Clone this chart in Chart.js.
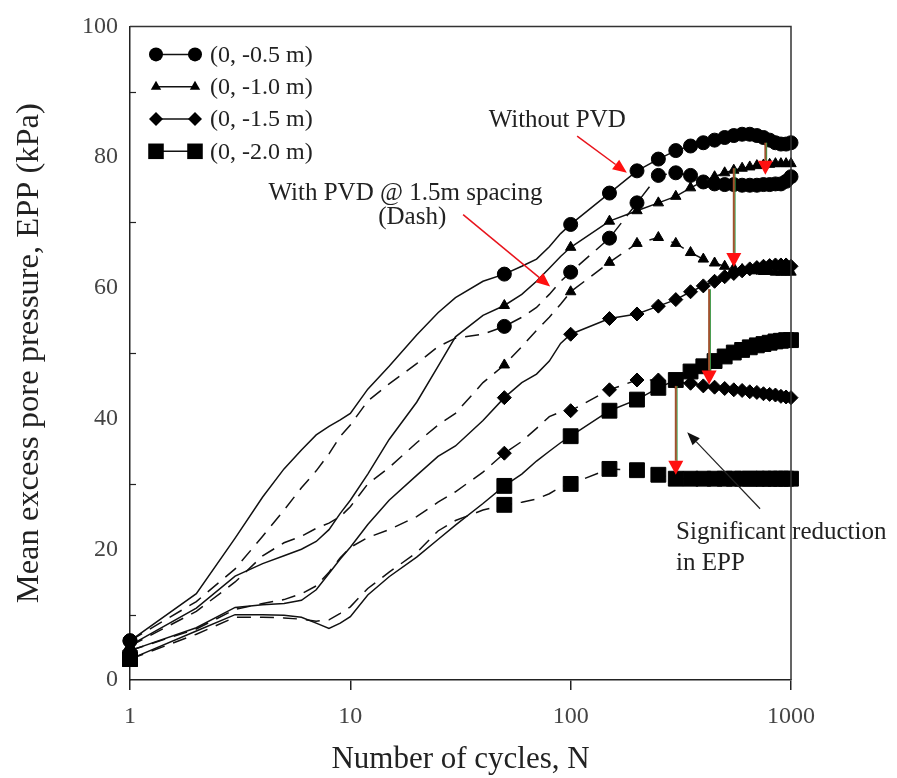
<!DOCTYPE html>
<html>
<head>
<meta charset="utf-8">
<script src="https://cdn.jsdelivr.net/npm/chart.js@4.4.1/dist/chart.umd.min.js"></script>
<style>
    html, body { margin: 0; padding: 0; background: #fff; }
</style>
</head>
<body>
<canvas id="graficaEpp" width="897" height="778"></canvas>
<script>
// ==============================
// DATA
// ==============================
const cycles = [1, 2, 3, 4, 5, 6, 7, 8, 9, 10, 12, 15, 20, 25, 30, 40, 50, 60, 70, 80, 90,
    100, 150, 200, 250, 300, 350, 400, 450, 500, 550, 600, 650, 700, 750, 800, 850, 900, 950, 1000];
const xTicks = [1, 10, 100, 1000];

// without PVD (solid)
const noPvd05 = [6, 13.2, 21.7, 28, 32.3, 35.2, 37.5, 38.8, 39.8, 40.8, 44.5, 48, 52.8, 56.2, 58.5, 61, 62.1, 63.3, 64.4, 66.3, 68.3,
    69.7, 74.5, 77.9, 79.7, 81, 81.7, 82.2, 82.6, 83, 83.3, 83.5, 83.5, 83.3, 83, 82.6, 82.2, 82, 82, 82.2];
const noPvd10 = [5.3, 11, 15.9, 17.8, 19, 20, 21.2, 23, 25.5, 27.5, 31.5, 36.8, 42.5, 48, 52.5, 55.8, 57.3, 59, 61, 63, 64.8,
    66.2, 70.2, 71.8, 73, 74, 75.3, 76.3, 77, 77.6, 78, 78.3, 78.5, 78.7, 78.8, 78.9, 79, 79, 79, 79];
const noPvd15 = [4.5, 8, 11.1, 11.5, 11.7, 12.2, 13.8, 16.3, 18.5, 20.3, 23.8, 27.5, 31.3, 34.2, 35.8, 39.7, 43.2, 45.5, 46.8, 48.8, 51.5,
    52.9, 55.3, 56, 57.2, 58.2, 59.4, 60.3, 61, 61.7, 62.2, 62.6, 62.9, 63.1, 63.3, 63.4, 63.5, 63.5, 63.5, 63.3];
const noPvd20 = [3.2, 7.5, 10, 10, 9.9, 9.6, 8.7, 7.9, 8.7, 9.7, 13, 15.8, 18.8, 21.5, 23.7, 27, 29.7, 31.5, 33.5, 35, 36.3,
    37.3, 41.2, 42.9, 44.7, 45.9, 47.2, 48, 48.8, 49.5, 50.1, 50.5, 50.9, 51.2, 51.4, 51.6, 51.8, 51.9, 52, 52];

// with PVD @ 1.5 m spacing (dashed)
const pvd05 = [6, 12, 17, 22, 26, 29.4, 32, 34.6, 37.3, 39, 42.7, 45.3, 48.4, 51, 52.3, 52.9, 54.1, 55.5, 57, 59, 61,
    62.4, 67.6, 73, 77.2, 77.6, 77.2, 76.2, 75.9, 75.8, 75.8, 75.7, 75.7, 75.7, 75.8, 75.8, 75.9, 75.9, 76.3, 77];
const pvd10 = [5.2, 10.5, 15, 19, 21, 22, 23.2, 24, 25, 26.5, 30, 32.5, 36.3, 39, 40.8, 45.5, 48.2, 51, 53.5, 55.5, 57.5,
    59.4, 63.9, 66.8, 67.7, 66.8, 65.4, 64.4, 63.8, 63.3, 63, 62.8, 62.7, 62.6, 62.5, 62.5, 62.4, 62.4, 62.4, 62.4];
const pvd15 = [4.5, 7.8, 10.8, 11.7, 12.3, 13.2, 14.4, 16.5, 18.7, 20.3, 21.8, 23, 25, 27.2, 28.8, 31.8, 34.7, 36.5, 38.5, 40.3, 41,
    41.2, 44.4, 45.9, 45.9, 45.6, 45.4, 45, 44.8, 44.6, 44.4, 44.3, 44.1, 44, 43.8, 43.7, 43.6, 43.4, 43.3, 43.2];
const pvd20 = [3.2, 7, 9.6, 9.6, 9.5, 9.3, 9, 9.2, 10.2, 11.2, 14, 16.5, 19.5, 22.8, 24.4, 26, 26.8, 27.2, 27.7, 28.5, 29.5,
    30, 32.3, 32.1, 31.4, 30.8, 30.8, 30.8, 30.8, 30.8, 30.8, 30.8, 30.8, 30.8, 30.8, 30.8, 30.8, 30.8, 30.8, 30.8];

const FONT = "'Liberation Serif', 'Times New Roman', serif";

// markers only at N = 1 and every 50 cycles
function hasMarker(n) {
    return n === 1 || (n >= 50 && n % 50 === 0);
}

function series(label, values, style, radius, dashed) {
    return {
        label: label,
        data: cycles.map((n, i) => ({ x: n, y: values[i] })),
        borderColor: "#111",
        backgroundColor: "#000",
        borderWidth: 1.5,
        borderDash: dashed ? [14, 9] : [],
        pointStyle: style,
        pointRadius: ctx => hasMarker(cycles[ctx.dataIndex]) ? radius : 0,
        pointBackgroundColor: "#000",
        pointBorderColor: "#000",
        pointBorderWidth: 1,
        tension: 0,
        clip: false
    };
}

// ==============================
// ANNOTATIONS (data coordinates)
// ==============================
const legendRows = [
    { text: "(0, -0.5 m)", style: "circle", r: 7 },
    { text: "(0, -1.0 m)", style: "triangle", r: 6 },
    { text: "(0, -1.5 m)", style: "rectRot", r: 7 },
    { text: "(0, -2.0 m)", style: "rect", r: 11 }
];

const notes = [
    { text: "Without PVD", n: 86.9, v: 85.6, align: "center" },
    { text: "With PVD @ 1.5m spacing", n: 17.8, v: 74.5, align: "center" },
    { text: "(Dash)", n: 19.1, v: 70.8, align: "center" },
    { text: "Significant reduction", n: 301, v: 22.6, align: "left" },
    { text: "in EPP", n: 301, v: 17.9, align: "left" }
];

const redArrows = [
    { from: [107, 83.2], to: [180, 77.6] },
    { from: [32.5, 71.2], to: [80.7, 60.2] }
];

const dropArrows = [
    { n: 765, top: 82.2, bottom: 77.3 },
    { n: 550, top: 78.3, bottom: 63.2 },
    { n: 425, top: 59.8, bottom: 45.2 },
    { n: 300, top: 45, bottom: 31.4 }
];

function drawMarker(ctx, style, px, py, r) {
    ctx.beginPath();
    if (style === "circle") {
        ctx.arc(px, py, r, 0, Math.PI * 2);
    } else if (style === "triangle") {
        ctx.moveTo(px, py - r);
        ctx.lineTo(px + 0.866 * r, py + r / 2);
        ctx.lineTo(px - 0.866 * r, py + r / 2);
        ctx.closePath();
    } else if (style === "rectRot") {
        ctx.moveTo(px - r, py);
        ctx.lineTo(px, py - r);
        ctx.lineTo(px + r, py);
        ctx.lineTo(px, py + r);
        ctx.closePath();
    } else {
        const s = r * Math.SQRT1_2;
        ctx.rect(px - s, py - s, 2 * s, 2 * s);
    }
    ctx.fill();
}

function arrow(ctx, x1, y1, x2, y2, color, headColor, headLen, headW) {
    const ang = Math.atan2(y2 - y1, x2 - x1);
    const bx = x2 - Math.cos(ang) * headLen;
    const by = y2 - Math.sin(ang) * headLen;
    ctx.strokeStyle = color;
    ctx.beginPath();
    ctx.moveTo(x1, y1);
    ctx.lineTo(bx, by);
    ctx.stroke();
    ctx.fillStyle = headColor;
    ctx.beginPath();
    ctx.moveTo(x2, y2);
    ctx.lineTo(bx + Math.sin(ang) * headW / 2, by - Math.cos(ang) * headW / 2);
    ctx.lineTo(bx - Math.sin(ang) * headW / 2, by + Math.cos(ang) * headW / 2);
    ctx.closePath();
    ctx.fill();
}

const decorations = {
    id: "decorations",
    afterDraw(chart) {
        const { ctx, chartArea: a, scales: { x, y } } = chart;
        ctx.save();

        // top and right frame
        ctx.strokeStyle = "#333";
        ctx.lineWidth = 1.5;
        ctx.beginPath();
        ctx.moveTo(a.left, a.top);
        ctx.lineTo(a.right, a.top);
        ctx.lineTo(a.right, a.bottom);
        ctx.stroke();

        // inner minor ticks on the y axis
        ctx.strokeStyle = "#222";
        ctx.lineWidth = 1.2;
        [10, 30, 50, 70, 90].forEach(v => {
            const py = Math.round(y.getPixelForValue(v)) + 0.5;
            ctx.beginPath();
            ctx.moveTo(a.left, py);
            ctx.lineTo(a.left + 6, py);
            ctx.stroke();
        });

        // vertical reduction arrows
        dropArrows.forEach(d => {
            const px = x.getPixelForValue(d.n);
            const t = y.getPixelForValue(d.top);
            const b = y.getPixelForValue(d.bottom);
            ctx.lineWidth = 1.2;
            ctx.strokeStyle = "#2ea04a";
            ctx.beginPath();
            ctx.moveTo(px + 1.2, t);
            ctx.lineTo(px + 1.2, b - 10);
            ctx.stroke();
            ctx.lineWidth = 2;
            arrow(ctx, px, t, px, b, "#a0522d", "#ff1010", 14, 15);
        });

        // red pointer arrows
        ctx.lineWidth = 1.5;
        redArrows.forEach(r => {
            arrow(ctx,
                x.getPixelForValue(r.from[0]), y.getPixelForValue(r.from[1]),
                x.getPixelForValue(r.to[0]), y.getPixelForValue(r.to[1]),
                "#e8141c", "#ff1010", 14, 12);
        });

        // black pointer arrow
        ctx.lineWidth = 1.2;
        arrow(ctx, x.getPixelForValue(724), y.getPixelForValue(26.2),
            x.getPixelForValue(338), y.getPixelForValue(37.9), "#222", "#111", 13, 10);

        // text notes
        ctx.fillStyle = "#222";
        ctx.font = "25px " + FONT;
        ctx.textBaseline = "middle";
        notes.forEach(t => {
            ctx.textAlign = t.align;
            ctx.fillText(t.text, x.getPixelForValue(t.n), y.getPixelForValue(t.v));
        });

        // legend
        ctx.font = "24px " + FONT;
        ctx.textAlign = "left";
        legendRows.forEach((row, i) => {
            const py = a.top + 28 + i * 32.3;
            const x1 = a.left + 26;
            const x2 = a.left + 65;
            ctx.strokeStyle = "#111";
            ctx.lineWidth = 1.5;
            ctx.beginPath();
            ctx.moveTo(x1, py);
            ctx.lineTo(x2, py);
            ctx.stroke();
            ctx.fillStyle = "#000";
            drawMarker(ctx, row.style, x1, py, row.r);
            drawMarker(ctx, row.style, x2, py, row.r);
            ctx.fillStyle = "#222";
            ctx.fillText(row.text, a.left + 80, py + 1);
        });

        ctx.restore();
    }
};

// ==============================
// CHART
// ==============================
new Chart(document.getElementById("graficaEpp"), {
    type: "line",
    data: {
        datasets: [
            series("(0, -0.5 m)", noPvd05, "circle", 7, false),
            series("(0, -1.0 m)", noPvd10, "triangle", 6, false),
            series("(0, -1.5 m)", noPvd15, "rectRot", 7, false),
            series("(0, -2.0 m)", noPvd20, "rect", 10.5, false),
            series("(0, -0.5 m) with PVD", pvd05, "circle", 7, true),
            series("(0, -1.0 m) with PVD", pvd10, "triangle", 6, true),
            series("(0, -1.5 m) with PVD", pvd15, "rectRot", 7, true),
            series("(0, -2.0 m) with PVD", pvd20, "rect", 10.5, true)
        ]
    },
    options: {
        responsive: false,
        animation: false,
        events: [],
        layout: {
            padding: { top: 20, right: 106, left: 0, bottom: 0 }
        },
        plugins: {
            legend: { display: false },
            tooltip: { enabled: false }
        },
        scales: {
            x: {
                type: "logarithmic",
                min: 1,
                max: 1000,
                afterBuildTicks: s => { s.ticks = xTicks.map(v => ({ value: v })); },
                afterFit: s => { s.height = 98; },
                ticks: {
                    color: "#444",
                    font: { family: FONT, size: 24 },
                    padding: 12,
                    maxRotation: 0,
                    autoSkip: false,
                    callback: v => String(v)
                },
                grid: {
                    display: true,
                    drawOnChartArea: false,
                    drawTicks: true,
                    tickLength: 10,
                    color: "#222",
                    lineWidth: 1.5
                },
                border: { display: true, color: "#222", width: 1.5 },
                title: {
                    display: true,
                    text: "Number of cycles, N",
                    color: "#222",
                    font: { family: FONT, size: 31 },
                    padding: { top: 0, bottom: 0 }
                }
            },
            y: {
                min: 0,
                max: 100,
                afterFit: s => { s.width = 130; },
                ticks: {
                    stepSize: 20,
                    color: "#444",
                    font: { family: FONT, size: 24 },
                    padding: 12
                },
                grid: {
                    display: true,
                    drawOnChartArea: false,
                    drawTicks: false
                },
                border: { display: true, color: "#222", width: 1.5 },
                title: {
                    display: true,
                    text: "Mean excess pore pressure, EPP (kPa)",
                    color: "#222",
                    font: { family: FONT, size: 32.5 },
                    padding: { top: 10, bottom: 0 }
                }
            }
        }
    },
    plugins: [decorations]
});
</script>
</body>
</html>
